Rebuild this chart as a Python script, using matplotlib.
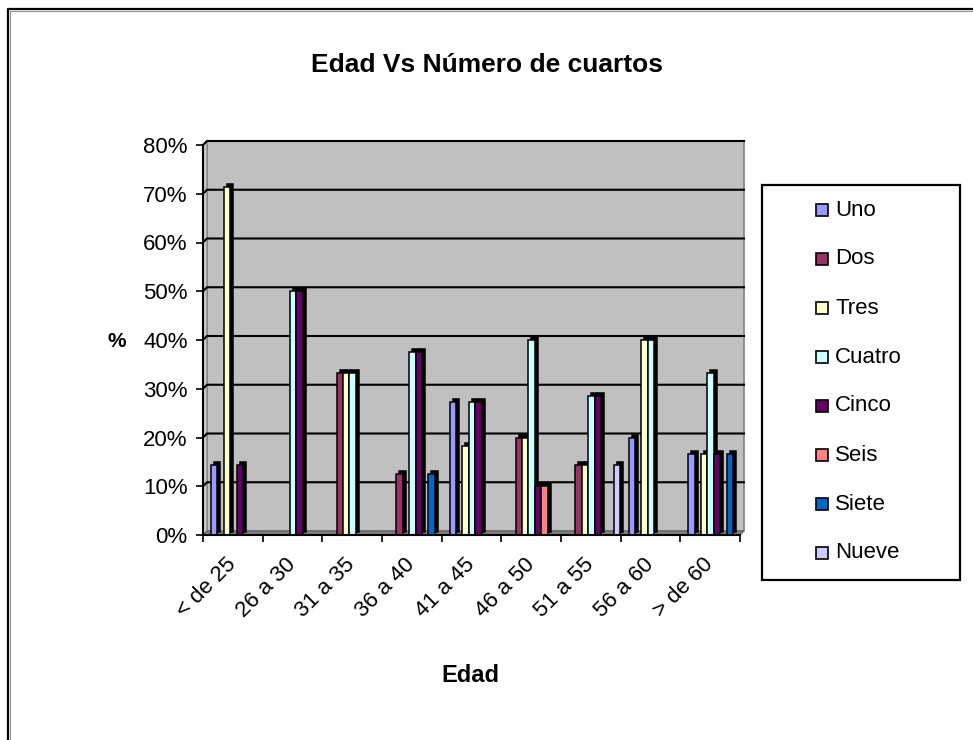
import numpy as np
import matplotlib
matplotlib.use("Agg")
import matplotlib.pyplot as plt
from matplotlib.patches import Rectangle, Polygon
from matplotlib.lines import Line2D

plt.rcParams['font.family'] = ['Liberation Sans', 'DejaVu Sans']

# datos (fraccion del total por grupo de edad)
edades = ["< de 25", "26 a 30", "31 a 35", "36 a 40", "41 a 45",
          "46 a 50", "51 a 55", "56 a 60", "> de 60"]
series = ["Uno", "Dos", "Tres", "Cuatro", "Cinco", "Seis", "Siete", "Nueve"]
uno    = [0.143, 0, 0, 0, 0.273, 0, 0, 0.20, 0.167]
dos    = [0, 0, 0.333, 0.125, 0, 0.20, 0.143, 0, 0]
tres   = [0.714, 0, 0.333, 0, 0.182, 0.20, 0.143, 0.40, 0.167]
cuatro = [0, 0.50, 0.333, 0.375, 0.273, 0.40, 0.286, 0.40, 0.333]
cinco  = [0.143, 0.50, 0, 0.375, 0.273, 0.10, 0.286, 0, 0.167]
seis   = [0, 0, 0, 0, 0, 0.10, 0, 0, 0]
siete  = [0, 0, 0, 0.125, 0, 0, 0, 0, 0.167]
nueve  = [0, 0, 0, 0, 0, 0, 0.143, 0, 0]
valores = [uno, dos, tres, cuatro, cinco, seis, siete, nueve]
colores = ["#9999FF", "#993366", "#FFFFCC", "#CCFFFF",
           "#660066", "#FF8080", "#0066CC", "#CCCCFF"]
yticks = np.arange(0, 0.81, 0.1)

W, H = 973, 740
fig = plt.figure(figsize=(W / 100, H / 100), dpi=100)

def fx(x):
    return x / W

def fy(y):
    return 1 - y / H

# marco exterior (solo izquierda y arriba visibles)
fig.add_artist(Line2D([fx(8), fx(8), fx(973)], [fy(740), fy(9), fy(9)],
                      color="black", lw=1.6))
fig.add_artist(Line2D([fx(10), fx(10), fx(973)], [fy(740), fy(11), fy(11)],
                      color="#909090", lw=0.8))

ax = fig.add_axes([fx(203), fy(535), (740 - 203) / W, (535 - 145) / H])
n = len(edades)
ax.set_xlim(-0.5, n - 0.5)
ax.set_ylim(0, 0.8)
ax.set_facecolor("white")

# efecto 3D: pared, piso y profundidad
dx = 4 / 59.6
dy = 4 / 48.75 * 0.1
ax.add_patch(Rectangle((-0.5 + dx, dy), n, 0.8, facecolor="#C0C0C0",
                       edgecolor="#808080", lw=1.2, clip_on=False, zorder=0))
ax.add_patch(Polygon([(-0.5, 0), (-0.5 + dx, dy), (-0.5 + dx, 0.8 + dy), (-0.5, 0.8)],
                     closed=True, facecolor="#C8C8C8", edgecolor="#808080",
                     lw=0.8, clip_on=False, zorder=0.5))
ax.add_patch(Polygon([(-0.5, 0), (-0.5 + dx, dy), (n - 0.5 + dx, dy), (n - 0.5, 0)],
                     closed=True, facecolor="#808080", edgecolor="#606060",
                     lw=0.8, clip_on=False, zorder=0.5))
for t in yticks[1:]:
    ax.plot([-0.5, -0.5 + dx, n - 0.5 + dx], [t, t + dy, t + dy],
            color="black", lw=1.5, clip_on=False, zorder=1)

# barras
ancho = 0.107
inicio = 0.134
x = np.arange(n)
bdx = 3 / 59.6
bdy = 3 / 48.75 * 0.1
for k, (vals, col) in enumerate(zip(valores, colores)):
    vals = np.array(vals)
    m = vals > 0
    pos = x[m] - 0.5 + inicio + k * ancho
    ax.bar(pos + bdx, vals[m], width=ancho, bottom=bdy, align="edge",
           color="black", edgecolor="black", lw=1.1, zorder=2 + k)
    ax.bar(pos, vals[m], width=ancho, align="edge", color=col,
           edgecolor="black", lw=1.1, zorder=2 + k)

# ejes
for s in ["top", "right"]:
    ax.spines[s].set_visible(False)
for s in ["left", "bottom"]:
    ax.spines[s].set_linewidth(1.5)
    ax.spines[s].set_zorder(20)
ax.set_yticks(yticks)
ax.set_yticklabels(["{:.0%}".format(t) for t in yticks])
ax.tick_params(axis="y", length=5, width=1.2, pad=6, labelsize=16)
ax.set_xticks(np.arange(n + 1) - 0.5)
ax.set_xticklabels([])
ax.tick_params(axis="x", which="major", length=5, width=1.2)
ax.set_xticks(x, minor=True)
ax.set_xticklabels(edades, minor=True, rotation=45, ha="right", va="center",
                   rotation_mode="anchor", fontsize=16)
ax.tick_params(axis="x", which="minor", length=0, pad=19)

fig.text(fx(487), fy(65), "Edad Vs Número de cuartos", ha="center", va="center",
         fontsize=19, fontweight="bold")
fig.text(fx(117), fy(342), "%", ha="center", va="center", fontsize=15,
         fontweight="bold")
fig.text(fx(470), fy(676), "Edad", ha="center", va="center", fontsize=17,
         fontweight="bold")

# leyenda
fig.add_artist(Rectangle((fx(762), fy(580)), (960 - 762) / W, (580 - 185) / H,
                         transform=fig.transFigure, facecolor="white",
                         edgecolor="black", lw=1.6))
for k, (nom, col) in enumerate(zip(series, colores)):
    yc = 210 + k * 49
    fig.add_artist(Rectangle((fx(816), fy(yc + 6)), 12 / W, 12 / H,
                             transform=fig.transFigure, facecolor=col,
                             edgecolor="black", lw=1.2))
    fig.text(fx(835), fy(yc), nom, ha="left", va="center", fontsize=16)

fig.savefig("out.png", dpi=100)
